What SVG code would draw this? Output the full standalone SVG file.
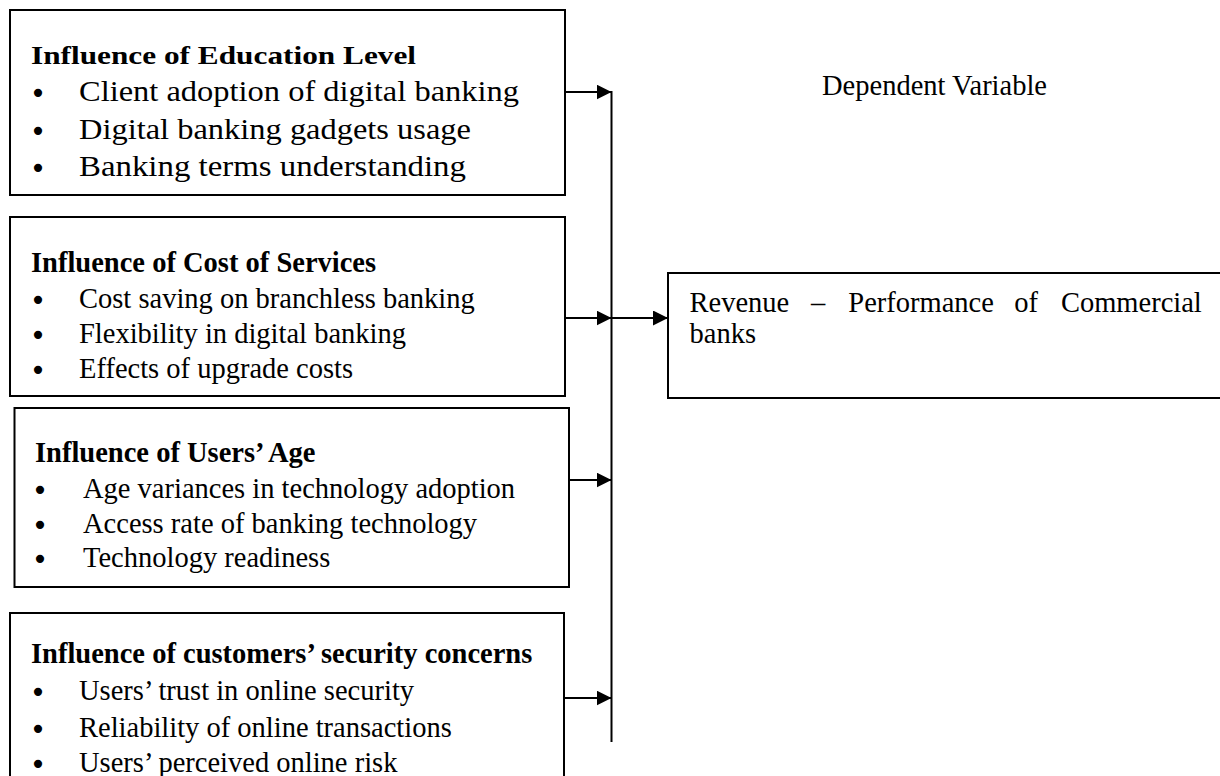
<svg xmlns="http://www.w3.org/2000/svg" width="1220" height="776" viewBox="0 0 1220 776">
  <style>
    .box { fill: #fff; stroke: #000; stroke-width: 2; }
    .txt { font-family: "Liberation Serif", "Times New Roman", serif; font-size: 28.5px; fill: #000; }
    .hd { font-weight: bold; }
    .wide { font-size: 29px; }
    .wide-hd { font-size: 25px; font-weight: bold; }
    .bul { font-family: "DejaVu Sans", sans-serif; font-size: 28px; text-anchor: middle; fill: #000; }
    .conn { fill: none; stroke: #000; stroke-width: 2; }
  </style>
  <defs>
    <marker id="arrow" viewBox="0 0 15 15" refX="15" refY="7.5" markerWidth="15" markerHeight="15" markerUnits="userSpaceOnUse" orient="auto">
      <path d="M0,0 L15,7.5 L0,15 Z" fill="#000"/>
    </marker>
  </defs>
  <rect width="1220" height="776" fill="#fff"/>

  <!-- independent variable: education level -->
  <g id="education">
    <rect class="box" x="10" y="10" width="555" height="185"/>
    <text class="txt wide-hd" x="31" y="64" textLength="385" lengthAdjust="spacingAndGlyphs">Influence of Education Level</text>
    <text class="bul" x="38" y="103">•</text>
    <text class="txt wide" x="79" y="101" textLength="440" lengthAdjust="spacingAndGlyphs">Client adoption of digital banking</text>
    <text class="bul" x="38" y="140.5">•</text>
    <text class="txt wide" x="79" y="138.5" textLength="392" lengthAdjust="spacingAndGlyphs">Digital banking gadgets usage</text>
    <text class="bul" x="38" y="177.5">•</text>
    <text class="txt wide" x="79" y="175.5" textLength="387" lengthAdjust="spacingAndGlyphs">Banking terms understanding</text>
  </g>

  <!-- independent variable: cost of services -->
  <g id="cost">
    <rect class="box" x="10" y="217" width="555" height="179"/>
    <text class="txt hd" x="31" y="272">Influence of Cost of Services</text>
    <text class="bul" x="38" y="310">•</text>
    <text class="txt" x="79" y="308">Cost saving on branchless banking</text>
    <text class="bul" x="38" y="345">•</text>
    <text class="txt" x="79" y="343">Flexibility in digital banking</text>
    <text class="bul" x="38" y="380">•</text>
    <text class="txt" x="79" y="378">Effects of upgrade costs</text>
  </g>

  <!-- independent variable: users' age -->
  <g id="age">
    <rect class="box" x="14.5" y="408" width="554.5" height="179"/>
    <text class="txt hd" x="35" y="462">Influence of Users’ Age</text>
    <text class="bul" x="40" y="500">•</text>
    <text class="txt" x="83" y="498">Age variances in technology adoption</text>
    <text class="bul" x="40" y="534.5">•</text>
    <text class="txt" x="83" y="532.5">Access rate of banking technology</text>
    <text class="bul" x="40" y="569">•</text>
    <text class="txt" x="83" y="567">Technology readiness</text>
  </g>

  <!-- independent variable: security concerns -->
  <g id="security">
    <rect class="box" x="10" y="613" width="554" height="180"/>
    <text class="txt hd" x="31" y="663">Influence of customers’ security concerns</text>
    <text class="bul" x="38" y="702">•</text>
    <text class="txt" x="79" y="700">Users’ trust in online security</text>
    <text class="bul" x="38" y="739">•</text>
    <text class="txt" x="79" y="737">Reliability of online transactions</text>
    <text class="bul" x="38" y="774">•</text>
    <text class="txt" x="79" y="772">Users’ perceived online risk</text>
  </g>

  <!-- dependent variable -->
  <g id="dependent-label">
    <text class="txt" x="822" y="95">Dependent Variable</text>
  </g>
  <g id="revenue">
    <rect class="box" x="668" y="273" width="580" height="125"/>
    <text class="txt" y="312" font-size="28px"><tspan x="689.5">Revenue</tspan><tspan x="811">–</tspan><tspan x="848.3">Performance</tspan><tspan x="1014.2">of</tspan><tspan x="1060.9">Commercial</tspan></text>
    <text class="txt" x="689.5" y="343" font-size="28px">banks</text>
  </g>

  <!-- connectors -->
  <g id="connectors">
    <line class="conn" x1="611.5" y1="91" x2="611.5" y2="742"/>
    <line class="conn" x1="565" y1="92" x2="611.5" y2="92" marker-end="url(#arrow)"/>
    <line class="conn" x1="565" y1="318" x2="611.5" y2="318" marker-end="url(#arrow)"/>
    <line class="conn" x1="611.5" y1="318" x2="668" y2="318" marker-end="url(#arrow)"/>
    <line class="conn" x1="569" y1="480" x2="611.5" y2="480" marker-end="url(#arrow)"/>
    <line class="conn" x1="564" y1="698" x2="611.5" y2="698" marker-end="url(#arrow)"/>
  </g>
</svg>
